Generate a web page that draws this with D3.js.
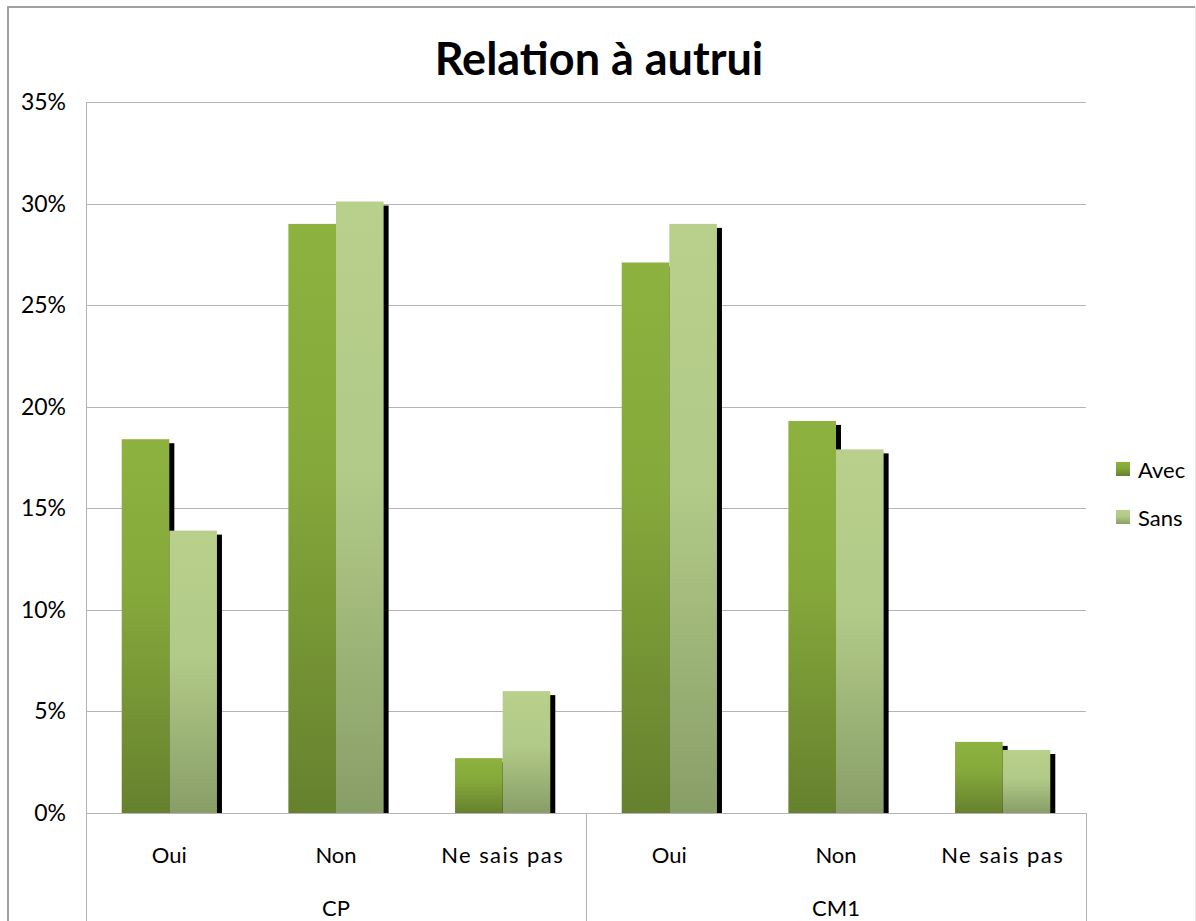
<!DOCTYPE html>
<html>
<head>
<meta charset="utf-8">
<script src="https://cdn.jsdelivr.net/npm/d3@7"></script>
<style>
  html, body { margin: 0; padding: 0; background: #fff; }
  svg { display: block; font-family: "Lato", "Open Sans", sans-serif; }
</style>
</head>
<body>
<svg id="chart" width="1196" height="921"></svg>
<script>
// Survey answers, share of pupils (in %)
const groups = ["CP", "CM1"];
const answers = ["Oui", "Non", "Ne sais pas"];
const seriesNames = ["Avec", "Sans"];
const avecValues = [18.4, 29.0, 2.7, 27.1, 19.3, 3.5];
const sansValues = [13.9, 30.1, 6.0, 29.0, 17.9, 3.1];
const yTicks = [0, 5, 10, 15, 20, 25, 30, 35];

const rows = [];
groups.forEach((g, gi) => {
  answers.forEach((a, ai) => {
    const i = gi * answers.length + ai;
    rows.push({ key: g + "|" + a, group: g, answer: a, Avec: avecValues[i], Sans: sansValues[i] });
  });
});

const svg = d3.select("#chart");
const plot = { left: 86, right: 1086, top: 102, bottom: 813 };

const x0 = d3.scaleBand().domain(rows.map(d => d.key)).range([plot.left, plot.right]).padding(0);
const x1 = d3.scaleBand().domain(seriesNames).range([0, x0.bandwidth()]).paddingInner(0).paddingOuter(0.75);
const y = d3.scaleLinear().domain([0, 35]).range([plot.bottom, plot.top]);

// gradients
const defs = svg.append("defs");
const grads = {
  Avec: [["0%", "#8db23f"], ["40%", "#86a93b"], ["100%", "#66812e"]],
  Sans: [["0%", "#b8d08b"], ["45%", "#b2ca88"], ["100%", "#889e67"]]
};
Object.entries(grads).forEach(([name, stops]) => {
  const lg = defs.append("linearGradient").attr("id", "g-" + name)
    .attr("x1", 0).attr("y1", 0).attr("x2", 0).attr("y2", 1);
  stops.forEach(([o, c]) => lg.append("stop").attr("offset", o).attr("stop-color", c));
});

// outer chart frame
svg.append("path")
  .attr("d", "M8,921 L8,7 L1195,7")
  .attr("fill", "none").attr("stroke", "#a0a0a0").attr("stroke-width", 2);
svg.append("line").attr("x1", 1195.5).attr("x2", 1195.5).attr("y1", 7).attr("y2", 921)
  .attr("stroke", "#e6e6e6").attr("stroke-width", 1);

// title
svg.append("text").attr("x", 599).attr("y", 75).attr("text-anchor", "middle")
  .attr("font-size", 45).attr("font-weight", "bold").attr("fill", "#000")
  .text("Relation à autrui");

// horizontal gridlines
svg.append("g").selectAll("line").data(yTicks).join("line")
  .attr("x1", plot.left).attr("x2", plot.right)
  .attr("y1", d => Math.round(y(d)) + 0.5).attr("y2", d => Math.round(y(d)) + 0.5)
  .attr("stroke", "#b4b4b4").attr("stroke-width", 1);

// y axis line
svg.append("line").attr("x1", plot.left + 0.5).attr("x2", plot.left + 0.5)
  .attr("y1", plot.top).attr("y2", plot.bottom).attr("stroke", "#b4b4b4");

// y tick labels
svg.append("g").selectAll("text").data(yTicks).join("text")
  .attr("x", 66).attr("y", d => y(d) + 8).attr("text-anchor", "end")
  .attr("font-size", 23).attr("fill", "#000")
  .text(d => d + "%");

// shadows, drawn behind all bars
const shadowLayer = svg.append("g");
const barLayer = svg.append("g");

rows.forEach(r => {
  seriesNames.forEach(s => {
    shadowLayer.append("rect")
      .attr("x", x0(r.key) + x1(s) + 5)
      .attr("y", y(r[s]) + 4)
      .attr("width", x1.bandwidth())
      .attr("height", Math.max(0, y(0) + 1 - (y(r[s]) + 4)))
      .attr("fill", "#000");
  });
});

const cat = barLayer.selectAll("g").data(rows).join("g")
  .attr("transform", d => `translate(${x0(d.key)},0)`);

cat.selectAll("rect").data(d => seriesNames.map(s => ({ s, v: d[s] }))).join("rect")
  .attr("x", d => x1(d.s))
  .attr("y", d => y(d.v))
  .attr("width", x1.bandwidth())
  .attr("height", d => y(0) - y(d.v))
  .attr("fill", d => `url(#g-${d.s})`);

// x axis line and group separators
svg.append("line").attr("x1", plot.left).attr("x2", plot.right)
  .attr("y1", plot.bottom + 0.5).attr("y2", plot.bottom + 0.5).attr("stroke", "#b4b4b4");
const sepX = [plot.left, x0(groups[1] + "|" + answers[0]), plot.right];
svg.append("g").selectAll("line").data(sepX).join("line")
  .attr("x1", d => Math.round(d) + 0.5).attr("x2", d => Math.round(d) + 0.5)
  .attr("y1", plot.bottom).attr("y2", 921)
  .attr("stroke", "#b4b4b4");

// category labels
svg.append("g").selectAll("text").data(rows).join("text")
  .attr("x", d => x0(d.key) + x0.bandwidth() / 2).attr("y", 863)
  .attr("text-anchor", "middle").attr("font-size", 22).attr("fill", "#000")
  .attr("letter-spacing", d => d.answer === "Ne sais pas" ? 1.4 : 0)
  .text(d => d.answer);

// group labels
svg.append("g").selectAll("text").data(groups).join("text")
  .attr("x", g => {
    const ks = rows.filter(r => r.group === g).map(r => r.key);
    return (x0(ks[0]) + x0(ks[ks.length - 1]) + x0.bandwidth()) / 2;
  })
  .attr("y", 916).attr("text-anchor", "middle").attr("font-size", 22).attr("fill", "#000")
  .text(g => g);

// legend
const legend = svg.append("g").selectAll("g").data(seriesNames).join("g")
  .attr("transform", (d, i) => `translate(1116,${462 + i * 48})`);
legend.append("rect").attr("width", 14).attr("height", 14).attr("fill", d => `url(#g-${d})`);
legend.append("text").attr("x", 22).attr("y", 16).attr("font-size", 22).attr("fill", "#000")
  .text(d => d);
</script>
</body>
</html>
